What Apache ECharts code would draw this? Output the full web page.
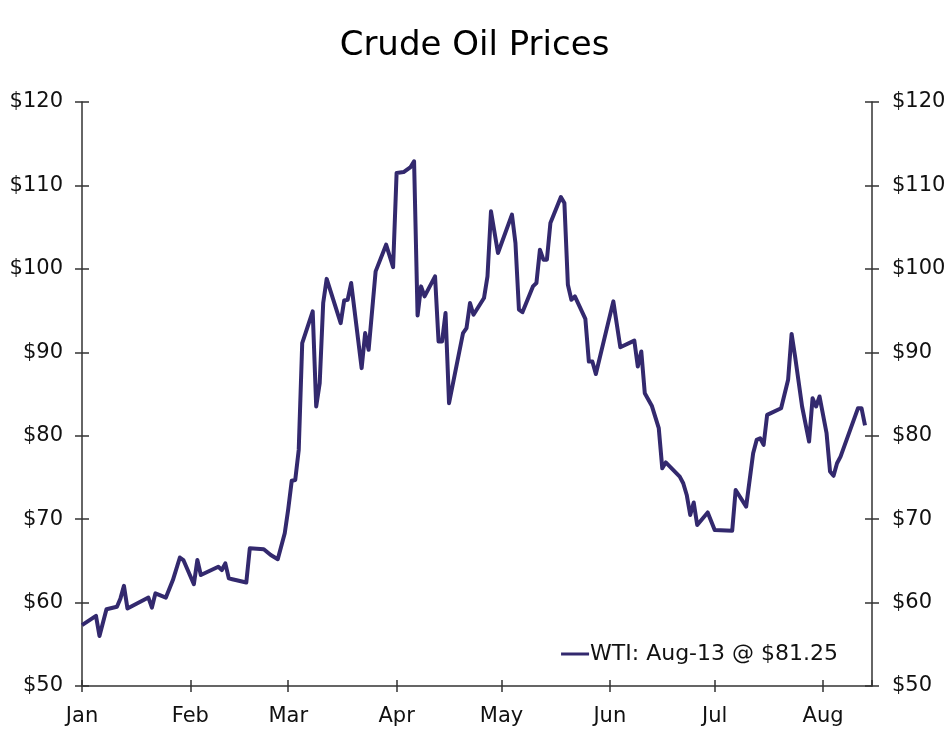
<!DOCTYPE html>
<html>
<head>
<meta charset="utf-8">
<script src="https://cdn.jsdelivr.net/npm/echarts@6/dist/echarts.min.js"></script>
<style>
html,body{margin:0;padding:0;background:#fff;}
#chart{width:949px;height:729px;}
</style>
</head>
<body>
<div id="chart"></div>
<script>
const monthNames = ['Jan','Feb','Mar','Apr','May','Jun','Jul','Aug','Sep','Oct','Nov','Dec'];
const dates = [
'2022-01-01','2022-01-05','2022-01-06','2022-01-08','2022-01-11','2022-01-12','2022-01-13','2022-01-14',
'2022-01-20','2022-01-21','2022-01-22','2022-01-25','2022-01-27','2022-01-29','2022-01-30',
'2022-02-02','2022-02-03','2022-02-04','2022-02-09','2022-02-10','2022-02-11','2022-02-12','2022-02-13',
'2022-02-17','2022-02-18','2022-02-22','2022-02-24','2022-02-26','2022-02-28',
'2022-03-01','2022-03-02','2022-03-03','2022-03-04','2022-03-05','2022-03-08','2022-03-09','2022-03-10',
'2022-03-11','2022-03-12','2022-03-16','2022-03-17','2022-03-18','2022-03-19','2022-03-22','2022-03-23',
'2022-03-24','2022-03-26','2022-03-29','2022-03-31',
'2022-04-01','2022-04-03','2022-04-05','2022-04-06','2022-04-07','2022-04-08','2022-04-09','2022-04-12',
'2022-04-13','2022-04-14','2022-04-15','2022-04-16','2022-04-20','2022-04-21','2022-04-22','2022-04-23',
'2022-04-26','2022-04-27','2022-04-28','2022-04-30',
'2022-05-04','2022-05-05','2022-05-06','2022-05-07','2022-05-10','2022-05-11','2022-05-12','2022-05-13',
'2022-05-14','2022-05-15','2022-05-18','2022-05-19','2022-05-20','2022-05-21','2022-05-22','2022-05-25',
'2022-05-26','2022-05-27','2022-05-28',
'2022-06-02','2022-06-04','2022-06-08','2022-06-09','2022-06-10','2022-06-11','2022-06-13','2022-06-15',
'2022-06-16','2022-06-17','2022-06-21','2022-06-22','2022-06-23','2022-06-24','2022-06-25','2022-06-26',
'2022-06-29',
'2022-07-01','2022-07-06','2022-07-07','2022-07-10','2022-07-12','2022-07-13','2022-07-14','2022-07-15',
'2022-07-16','2022-07-20','2022-07-22','2022-07-23','2022-07-24','2022-07-26','2022-07-28','2022-07-29',
'2022-07-30','2022-07-31',
'2022-08-02','2022-08-03','2022-08-04','2022-08-05','2022-08-06','2022-08-11','2022-08-12','2022-08-13'
];
const wti = [
57.3,58.4,56.0,59.2,59.5,60.5,62.0,59.3,
60.6,59.4,61.1,60.6,62.7,65.4,65.1,
62.2,65.1,63.3,64.3,63.9,64.7,62.9,62.8,
62.4,66.5,66.4,65.7,65.2,68.3,
71.2,74.6,74.7,78.3,91.1,94.9,83.5,86.3,
95.9,98.8,93.5,96.2,96.3,98.3,88.1,92.3,
90.3,99.7,102.9,100.2,
111.5,111.6,112.2,112.9,94.4,97.9,96.7,99.1,
91.3,91.3,94.7,83.9,92.3,92.9,95.9,94.5,
96.5,99.1,106.9,101.9,
106.5,103.1,95.1,94.8,97.9,98.3,102.3,101.1,
101.1,105.5,108.6,107.9,98.1,96.3,96.7,94.0,
88.9,88.9,87.4,
96.1,90.6,91.4,88.3,90.1,85.1,83.6,80.9,
76.1,76.8,75.1,74.3,72.9,70.5,72.0,69.3,
70.8,
68.7,68.6,73.5,71.5,77.9,79.5,79.7,78.9,
82.5,83.3,86.7,92.2,89.5,83.5,79.3,84.5,
83.5,84.7,
80.3,75.7,75.2,76.7,77.5,83.3,83.3,81.25
];
const seriesName = 'WTI';
const legendText = 'WTI: Aug-13 @ $81.25';
const chartTitle = 'Crude Oil Prices';
const xMin = '2022-01-01';
const xMax = '2022-08-15';
const yMin = 50, yMax = 120, yStep = 10;

const FONT = 'DejaVu Sans';
const AX = '#333333';
const LINE = '#33296e';
const DAY = 86400000;

const seriesData = dates.map((d, i) => [d, wti[i]]);

function monthLabel(v) { return monthNames[new Date(v).getMonth()]; }

const xBase = {
  type: 'time', min: xMin, max: xMax, gridIndex: 0, position: 'bottom', offset: 0,
  minInterval: 28 * DAY, maxInterval: 31 * DAY, splitNumber: 8,
  splitLine: { show: false }, minorTick: { show: false }
};
const yBase = {
  type: 'value', min: yMin, max: yMax, interval: yStep, gridIndex: 0,
  splitLine: { show: false }
};
const lineStyle = { color: AX, width: 1.5 };
const labelStyle = { fontFamily: FONT, fontSize: 21, color: '#111' };

const option = {
  animation: false,
  backgroundColor: '#ffffff',
  title: {
    text: chartTitle, left: 'center', top: 24,
    textStyle: { fontFamily: FONT, fontSize: 34, fontWeight: 'normal', color: '#000' }
  },
  legend: {
    data: [seriesName], right: 106, top: 638,
    icon: 'rect', itemWidth: 28, itemHeight: 3, itemGap: 0,
    formatter: () => legendText,
    textStyle: { fontFamily: FONT, fontSize: 22, color: '#111', padding: [0, 0, 0, -4] }
  },
  grid: { left: 82, right: 77, top: 102, bottom: 43, containLabel: false },
  xAxis: [
    Object.assign({}, xBase, {
      axisLine: { show: true, lineStyle: lineStyle },
      axisTick: { show: true, inside: false, length: 6, lineStyle: lineStyle },
      axisLabel: Object.assign({ margin: 20, formatter: monthLabel, hideOverlap: false, showMinLabel: true, showMaxLabel: false }, labelStyle)
    }),
    Object.assign({}, xBase, {
      axisLine: { show: false },
      axisTick: { show: true, inside: true, length: 6, lineStyle: lineStyle },
      axisLabel: { show: false }
    })
  ],
  yAxis: [
    Object.assign({}, yBase, {
      position: 'left', offset: 0,
      axisLine: { show: true, onZero: false, lineStyle: lineStyle },
      axisTick: { show: true, inside: false, length: 7, lineStyle: lineStyle },
      axisLabel: Object.assign({ margin: 19, formatter: v => '$' + v }, labelStyle)
    }),
    Object.assign({}, yBase, {
      position: 'right', offset: 0,
      axisLine: { show: true, onZero: false, lineStyle: lineStyle },
      axisTick: { show: true, inside: false, length: 7, lineStyle: lineStyle },
      axisLabel: Object.assign({ margin: 20, formatter: v => '$' + v }, labelStyle)
    }),
    Object.assign({}, yBase, {
      position: 'left', offset: 0,
      axisLine: { show: false },
      axisTick: { show: true, inside: true, length: 7, lineStyle: lineStyle },
      axisLabel: { show: false }
    }),
    Object.assign({}, yBase, {
      position: 'right', offset: 0,
      axisLine: { show: false },
      axisTick: { show: true, inside: true, length: 7, lineStyle: lineStyle },
      axisLabel: { show: false }
    })
  ],
  series: [{
    name: seriesName, type: 'line', xAxisIndex: 0, yAxisIndex: 0,
    data: seriesData, showSymbol: false, symbol: 'none',
    lineStyle: { color: LINE, width: 4, join: 'round' },
    itemStyle: { color: LINE }
  }]
};

const chart = echarts.init(document.getElementById('chart'), null, { renderer: 'canvas' });
chart.setOption(option);
</script>
</body>
</html>
